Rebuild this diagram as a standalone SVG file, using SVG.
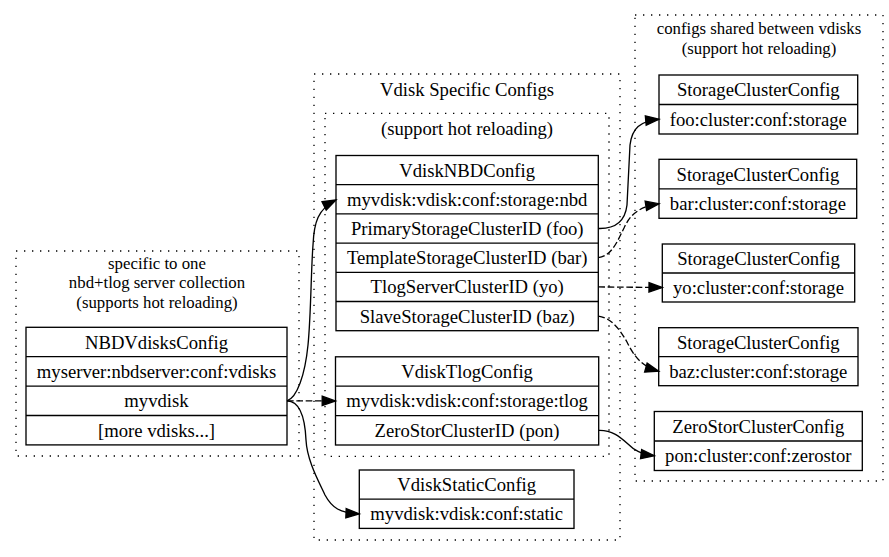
<svg xmlns="http://www.w3.org/2000/svg" width="889" height="557" viewBox="0 0 889 557">
<style>
text{font-family:"Liberation Serif","Times New Roman",serif;font-size:18.67px;fill:#000;text-anchor:middle}
text.ml{font-size:16.8px}
.cl{fill:none;stroke:#000;stroke-width:1.33;stroke-dasharray:1.33,6.67}
.box{fill:#fff;stroke:#000;stroke-width:1.33}
.sep{stroke:#000;stroke-width:1.33}
.e{fill:none;stroke:#000;stroke-width:1.33}
.d{stroke-dasharray:6.67,2.67}
</style>
<defs>
<marker id="ah" markerUnits="userSpaceOnUse" markerWidth="16" markerHeight="12" refX="13.3" refY="6" orient="auto" overflow="visible">
<path d="M0,1.33 L13.3,6 L0,10.67 Z" fill="#000" stroke="#000" stroke-width="1.33"/>
</marker>
</defs>
<rect width="889" height="557" fill="#fff"/>

<g id="cluster_server">
<rect class="cl" x="16" y="251" width="283" height="205"/>
<text class="ml" x="157" y="268.5">specific to one</text>
<text class="ml" x="157" y="288">nbd+tlog server collection</text>
<text class="ml" x="157" y="307.5">(supports hot reloading)</text>
</g>
<g id="cluster_vdisk">
<rect class="cl" x="314" y="74" width="306" height="466"/>
<text x="467" y="96">Vdisk Specific Configs</text>
</g>
<g id="cluster_vdisk_hot">
<rect class="cl" x="325" y="113.3" width="284" height="343"/>
<text x="467" y="135">(support hot reloading)</text>
</g>
<g id="cluster_shared">
<rect class="cl" x="635" y="15" width="248" height="466"/>
<text class="ml" x="759" y="34">configs shared between vdisks</text>
<text class="ml" x="759" y="53.5">(support hot reloading)</text>
</g>

<g id="NBDVdisksConfig">
<rect class="box" x="26" y="327.3" width="261" height="117.6"/>
<line class="sep" x1="26" y1="356.7" x2="287" y2="356.7"/>
<line class="sep" x1="26" y1="386.1" x2="287" y2="386.1"/>
<line class="sep" x1="26" y1="415.5" x2="287" y2="415.5"/>
<text x="156.5" y="348.5">NBDVdisksConfig</text>
<text x="156.5" y="377.9">myserver:nbdserver:conf:vdisks</text>
<text x="156.5" y="407.3">myvdisk</text>
<text x="156.5" y="436.7">[more vdisks...]</text>
</g>

<g id="VdiskNBDConfig">
<rect class="box" x="336" y="155.5" width="262.3" height="175.2"/>
<line class="sep" x1="336" y1="184.7" x2="598.3" y2="184.7"/>
<line class="sep" x1="336" y1="213.9" x2="598.3" y2="213.9"/>
<line class="sep" x1="336" y1="243.1" x2="598.3" y2="243.1"/>
<line class="sep" x1="336" y1="272.3" x2="598.3" y2="272.3"/>
<line class="sep" x1="336" y1="301.5" x2="598.3" y2="301.5"/>
<text x="467.2" y="176.6">VdiskNBDConfig</text>
<text x="467.2" y="205.8">myvdisk:vdisk:conf:storage:nbd</text>
<text x="467.2" y="235">PrimaryStorageClusterID (foo)</text>
<text x="467.2" y="264.2">TemplateStorageClusterID (bar)</text>
<text x="467.2" y="293.4">TlogServerClusterID (yo)</text>
<text x="467.2" y="322.6">SlaveStorageClusterID (baz)</text>
</g>

<g id="VdiskTlogConfig">
<rect class="box" x="335.5" y="356.8" width="263.2" height="88.2"/>
<line class="sep" x1="335.5" y1="386.2" x2="598.7" y2="386.2"/>
<line class="sep" x1="335.5" y1="415.6" x2="598.7" y2="415.6"/>
<text x="467.1" y="378">VdiskTlogConfig</text>
<text x="467.1" y="407.4">myvdisk:vdisk:conf:storage:tlog</text>
<text x="467.1" y="436.8">ZeroStorClusterID (pon)</text>
</g>

<g id="VdiskStaticConfig">
<rect class="box" x="359.3" y="470" width="214.7" height="58.4"/>
<line class="sep" x1="359.3" y1="499.2" x2="574" y2="499.2"/>
<text x="466.7" y="491.1">VdiskStaticConfig</text>
<text x="466.7" y="520.3">myvdisk:vdisk:conf:static</text>
</g>

<g id="StorageClusterConfig_foo">
<rect class="box" x="659" y="75" width="198.7" height="59"/>
<line class="sep" x1="659" y1="104.5" x2="857.7" y2="104.5"/>
<text x="758.3" y="96.3">StorageClusterConfig</text>
<text x="758.3" y="125.8">foo:cluster:conf:storage</text>
</g>
<g id="StorageClusterConfig_bar">
<rect class="box" x="659" y="159.3" width="197.7" height="59"/>
<line class="sep" x1="659" y1="188.8" x2="856.7" y2="188.8"/>
<text x="757.9" y="180.7">StorageClusterConfig</text>
<text x="757.9" y="210.2">bar:cluster:conf:storage</text>
</g>
<g id="StorageClusterConfig_yo">
<rect class="box" x="662.3" y="244" width="192.4" height="58"/>
<line class="sep" x1="662.3" y1="273" x2="854.7" y2="273"/>
<text x="758.5" y="265">StorageClusterConfig</text>
<text x="758.5" y="294">yo:cluster:conf:storage</text>
</g>
<g id="StorageClusterConfig_baz">
<rect class="box" x="658.7" y="327.7" width="199.3" height="58"/>
<line class="sep" x1="658.7" y1="356.7" x2="858" y2="356.7"/>
<text x="758.3" y="348.7">StorageClusterConfig</text>
<text x="758.3" y="377.7">baz:cluster:conf:storage</text>
</g>
<g id="ZeroStorClusterConfig_pon">
<rect class="box" x="654.3" y="411.5" width="208" height="59"/>
<line class="sep" x1="654.3" y1="441" x2="862.3" y2="441"/>
<text x="758.3" y="432.7">ZeroStorClusterConfig</text>
<text x="758.3" y="462.2">pon:cluster:conf:zerostor</text>
</g>

<g id="edges">
<path class="e" marker-end="url(#ah)" d="M287,400.8 C297,398 305,375 308,345 C311,315 311,270 313,245 C314,222 318,209 336,200"/>
<path class="e d" marker-end="url(#ah)" d="M287,400.8 L335.5,400.9"/>
<path class="e" marker-end="url(#ah)" d="M287,400.8 C300,401 305,418 306,440 C307,460 318,480 325,495 C332,508 340,513 359.3,513.8"/>
<path class="e" marker-end="url(#ah)" d="M598.3,228.5 C615,229 625,222 627,205 L630,145 C632,128 640,121 659,119.3"/>
<path class="e d" marker-end="url(#ah)" d="M598.3,257.7 C612,256 618,240 624,228 C630,215 638,207 659,203.7"/>
<path class="e d" marker-end="url(#ah)" d="M598.3,286.9 L662.3,287.5"/>
<path class="e d" marker-end="url(#ah)" d="M598.3,316.1 C612,318 620,330 627,342 C633,354 640,366 658.7,371.2"/>
<path class="e" marker-end="url(#ah)" d="M599,430.3 C612,430 620,437 628,444 C634,450 640,454 654.3,455.7"/>
</g>
</svg>
